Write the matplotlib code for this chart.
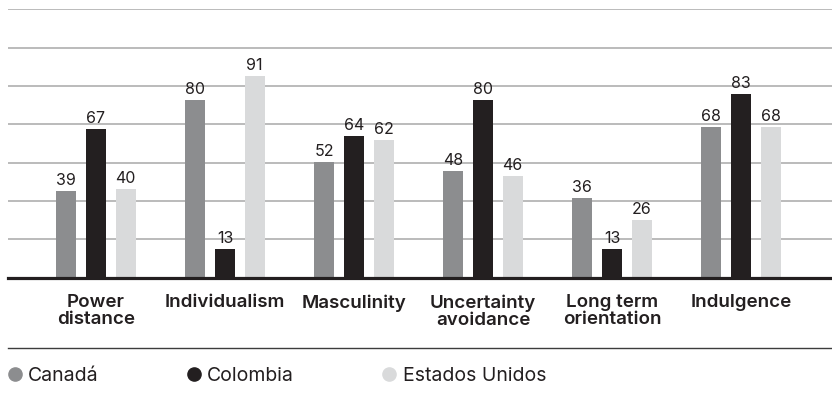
import numpy as np
import matplotlib
matplotlib.use("Agg")
import matplotlib.pyplot as plt
from matplotlib.lines import Line2D

# Hofstede cultural dimensions
categories = ["Power\ndistance", "Individualism", "Masculinity",
              "Uncertainty\navoidance", "Long term\norientation", "Indulgence"]
series_names = ["Canadá", "Colombia", "Estados Unidos"]
canada = [39, 80, 52, 48, 36, 68]
colombia = [67, 13, 64, 80, 13, 83]
usa = [40, 91, 62, 46, 26, 68]

colors = ["#8c8d8f", "#231f20", "#d9dadb"]
text_color = "#231f20"
plt.rcParams["font.family"] = ["Inter", "DejaVu Sans"]

W, H = 832, 395
fig = plt.figure(figsize=(W / 100, H / 100), dpi=100)
ax = fig.add_axes([8 / W, 1 - 277.7 / H, 824 / W, 268.4 / H])

x = np.arange(len(categories))
offset = 0.23
width = 0.155
for i, (vals, col) in enumerate(zip([canada, colombia, usa], colors)):
    bars = ax.bar(x + (i - 1) * offset, vals, width=width, color=col, zorder=2)
    for rect, v in zip(bars, vals):
        ax.annotate(f"{v}", (rect.get_x() + rect.get_width() / 2, v),
                    xytext=(0, 4.3), textcoords="offset points",
                    ha="center", va="baseline", fontsize=11.5, color=text_color)

ymax = 121
ax.set_ylim(0, ymax)
ax.set_xlim(-0.682, 5.705)
ax.set_yticks(np.linspace(0, ymax, 8)[1:])
ax.yaxis.grid(True, color="#a8a8a8", linewidth=1.1)
ax.set_axisbelow(True)
ax.tick_params(axis="y", left=False, labelleft=False)
ax.tick_params(axis="x", length=0, pad=12)
ax.set_xticks(x)
ax.set_xticklabels(categories, fontsize=13.5, fontweight="semibold",
                   color=text_color, linespacing=1.0)
for s in ["top", "right", "left"]:
    ax.spines[s].set_visible(False)
ax.spines["bottom"].set_color(text_color)
ax.spines["bottom"].set_linewidth(2.3)
ax.spines["bottom"].set_zorder(3)

# separator between the axis labels and the legend
fig.add_artist(Line2D([8 / W, 1], [1 - 348.3 / H] * 2, color="#3c3c3c",
                      linewidth=1.0, transform=fig.transFigure))

handles = [Line2D([], [], linestyle="none", marker="o", markersize=9.5,
                  markerfacecolor=c, markeredgecolor=c) for c in colors]
fig.legend(handles, series_names, loc="center left",
           bbox_to_anchor=(8 / W, 1 - 376 / H), ncol=3, frameon=False,
           fontsize=14, borderpad=0, borderaxespad=0, handlelength=0.67,
           handletextpad=0.36, columnspacing=4.55, labelcolor=text_color)

fig.savefig("out.png", dpi=100)
